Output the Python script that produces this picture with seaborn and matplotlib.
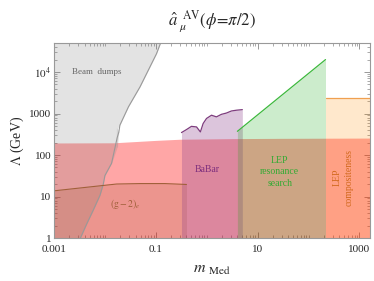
import numpy as np
import matplotlib
matplotlib.use("Agg")
import matplotlib.pyplot as plt
import matplotlib.ticker as mticker
import seaborn as sns

# beam dump exclusion boundary (m_Med in GeV, Lambda in GeV)
beam_m = [0.0033, 0.0044, 0.0059, 0.0080, 0.0093, 0.0100, 0.0135, 0.0174,
          0.0188, 0.0174, 0.0197, 0.029, 0.049, 0.076, 0.103, 0.124]
beam_lam = [1.0, 2.2, 4.7, 10.7, 20, 32, 63, 155, 360, 440, 525, 1450, 4400,
            1.3e4, 2.75e4, 5e4]

# (g-2)_mu band upper edge
gmu_m = [0.001, 0.015, 0.1, 0.3, 3, 30, 1600]
gmu_lam = [195, 197, 225, 240, 248, 252, 256]

# (g-2)_e upper edge
ge_m = [0.001, 0.005, 0.017, 0.05, 0.15, 0.4]
ge_lam = [13.7, 17, 20, 20.5, 20.5, 19.5]

# BaBar
babar_m = [0.319, 0.40, 0.50, 0.63, 0.75, 0.85, 0.99, 1.24, 1.55, 1.94,
           2.43, 3.05, 3.82, 5.0]
babar_lam = [347, 410, 490, 475, 360, 575, 760, 910, 830, 955, 1025, 1150,
             1200, 1240]

# LEP resonance search
lepres_m = [4.0, 215]
lepres_lam = [372, 19900]

# LEP compositeness
lepcomp_m = [215, 1600]
lepcomp_lam = [2400, 2400]

sns.set_theme(style="ticks")
plt.rcParams["font.family"] = ["Liberation Serif", "DejaVu Serif"]
plt.rcParams["mathtext.fontset"] = "stix"

fig = plt.figure(figsize=(3.74, 2.81), dpi=100)
ax = fig.add_axes([0.1444, 0.153, 0.8446, 0.694])
ax.set_xscale("log")
ax.set_yscale("log")
ax.set_xlim(1e-3, 1.6e3)
ax.set_ylim(1, 5e4)

# (g-2)_mu
ax.fill_between(gmu_m, 1, gmu_lam, color=(1.0, 0.0, 0.0), alpha=0.35, lw=0)
# beam dumps
ax.fill_betweenx(beam_lam, 1e-3, beam_m, color=(0.5, 0.5, 0.5), alpha=0.22, lw=0)
sns.lineplot(x=beam_m, y=beam_lam, sort=False, color="#999999", lw=0.8, ax=ax)
# (g-2)_e
ax.fill_between(ge_m, 1, ge_lam, color=(0.63, 0.32, 0.18), alpha=0.2, lw=0)
sns.lineplot(x=ge_m, y=ge_lam, sort=False, color="#A0603A", lw=0.8, ax=ax)
# BaBar
ax.fill_between(babar_m, 1, babar_lam, color=(0.55, 0.25, 0.55), alpha=0.3, lw=0)
sns.lineplot(x=babar_m, y=babar_lam, sort=False, color="#7D3C7D", lw=0.9, ax=ax)
# LEP resonance
ax.fill_between(lepres_m, 1, lepres_lam, color=(0.0, 0.63, 0.0), alpha=0.2, lw=0)
sns.lineplot(x=lepres_m, y=lepres_lam, sort=False, color="#3CB83C", lw=0.9, ax=ax)
# LEP compositeness
ax.fill_between(lepcomp_m, 1, lepcomp_lam, color=(1.0, 0.55, 0.0), alpha=0.2, lw=0)
sns.lineplot(x=lepcomp_m, y=lepcomp_lam, sort=False, color="#F0A050", lw=0.9, ax=ax)

ax.text(0.007, 9800, "Beam  dumps", color="#666666", fontsize=6.5,
        ha="center", va="center")
ax.text(0.0247, 6.6, "$(\\mathrm{g}-2)_e$", color="#A0603A", fontsize=7,
        ha="center", va="center")
ax.text(1.0, 46, "BaBar", color="#7D2E7D", fontsize=7, ha="center", va="center")
ax.text(27, 39, "LEP\nresonance\nsearch", color="#33AA33", fontsize=7,
        ha="center", va="center", linespacing=1.35)
ax.text(485, 29, "LEP\ncompositeness", color="#D2691E", fontsize=7,
        ha="center", va="center", rotation=90, linespacing=1.4)

ax.xaxis.set_major_locator(mticker.FixedLocator([1e-3, 1e-1, 1e1, 1e3]))
ax.xaxis.set_major_formatter(mticker.FixedFormatter(["0.001", "0.1", "10", "1000"]))
ax.xaxis.set_minor_locator(mticker.LogLocator(base=10, subs=np.arange(1, 10), numticks=20))
ax.xaxis.set_minor_formatter(mticker.NullFormatter())
ax.yaxis.set_major_locator(mticker.FixedLocator([1, 10, 100, 1000, 1e4]))
ax.yaxis.set_major_formatter(mticker.FixedFormatter(["1", "10", "100", "1000", "$10^4$"]))
ax.yaxis.set_minor_locator(mticker.LogLocator(base=10, subs=np.arange(1, 10), numticks=20))
ax.yaxis.set_minor_formatter(mticker.NullFormatter())

ax.tick_params(which="both", direction="in", top=True, right=True,
               color="#888888", labelsize=8)
ax.tick_params(axis="x", which="major", pad=5)
ax.tick_params(axis="y", which="major", pad=2)
ax.tick_params(which="major", length=4, width=0.6)
ax.tick_params(which="minor", length=2, width=0.5)
for s in ax.spines.values():
    s.set_color("#999999")
    s.set_linewidth(0.8)

ax.set_xlabel("$m$ $_{\\mathrm{Med}}$", fontsize=11.5, labelpad=5)
ax.set_ylabel("$\\Lambda$ (GeV)", fontsize=10, labelpad=2)
ax.set_title("$\\hat{a}_{\\ \\mu}^{\\ \\ \\mathrm{AV}}(\\phi\\!=\\!\\pi/2)$",
             fontsize=12, pad=13)

fig.savefig("out.png", dpi=100)
